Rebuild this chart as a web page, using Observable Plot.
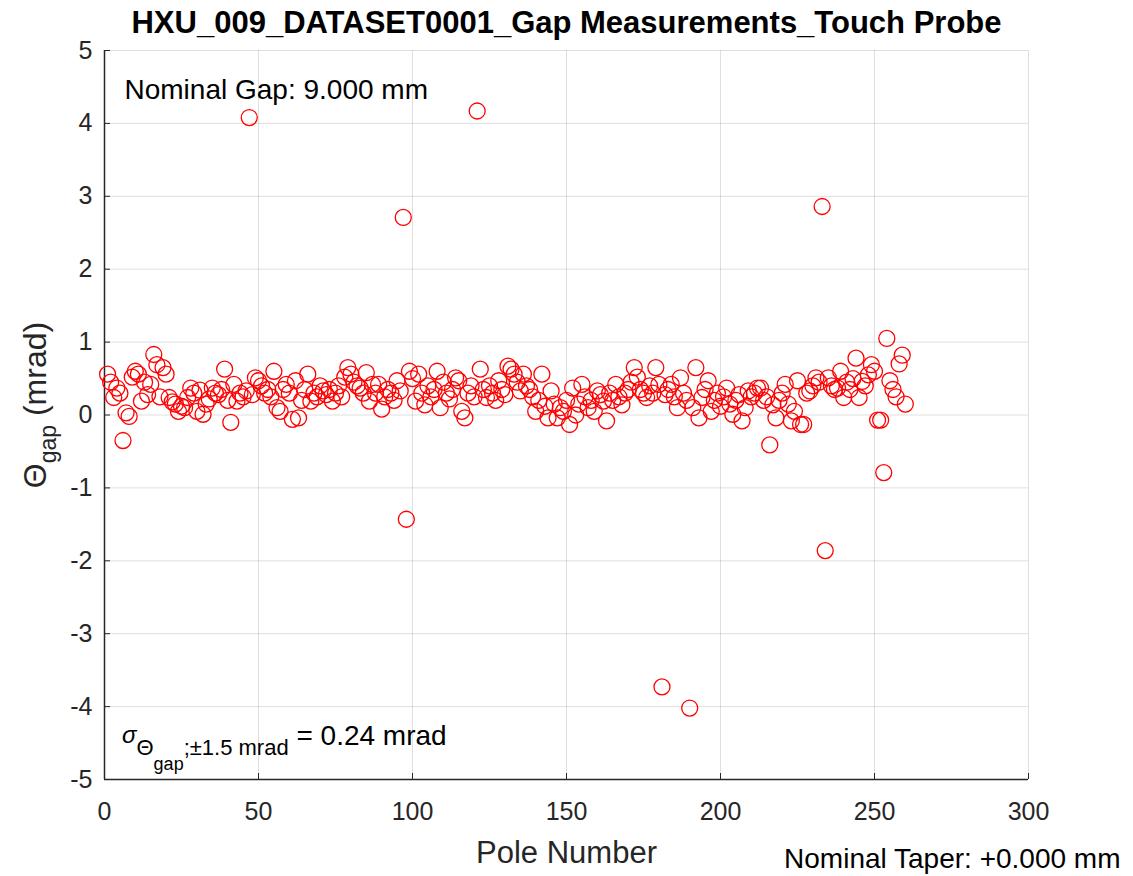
<!DOCTYPE html>
<html><head><meta charset="utf-8">
<script src="https://cdn.jsdelivr.net/npm/d3@7"></script>
<script src="https://cdn.jsdelivr.net/npm/@observablehq/plot@0.6"></script>
<style>
body{margin:0;background:#fff;}
svg{font-family:"Liberation Sans",Arial,Helvetica,sans-serif;}
</style>
</head><body><div id="chart"></div>
<script>
// Theta_gap (mrad) per pole, poles 1..260
const thetaGap = [
  0.56, 0.45, 0.24, 0.37, 0.30, -0.35, 0.03, -0.02, 0.52, 0.60,
  0.56, 0.19, 0.45, 0.28, 0.42, 0.83, 0.69, 0.25, 0.65, 0.56,
  0.24, 0.18, 0.15, 0.05, 0.12, 0.10, 0.24, 0.37, 0.30, 0.05,
  0.34, 0.01, 0.15, 0.22, 0.37, 0.30, 0.28, 0.35, 0.63, 0.20,
  -0.10, 0.42, 0.19, 0.30, 0.25, 0.33, 4.08, 0.28, 0.51, 0.47,
  0.40, 0.30, 0.35, 0.25, 0.60, 0.10, 0.05, 0.35, 0.42, 0.30,
  -0.06, 0.47, -0.04, 0.20, 0.35, 0.56, 0.19, 0.30, 0.25, 0.40,
  0.33, 0.28, 0.35, 0.19, 0.30, 0.40, 0.25, 0.52, 0.65, 0.56,
  0.45, 0.40, 0.37, 0.30, 0.58, 0.19, 0.42, 0.30, 0.42, 0.08,
  0.25, 0.35, 0.30, 0.20, 0.47, 0.33, 2.71, -1.43, 0.60, 0.50,
  0.19, 0.56, 0.30, 0.14, 0.40, 0.25, 0.35, 0.60, 0.10, 0.45,
  0.30, 0.22, 0.35, 0.51, 0.47, 0.05, -0.04, 0.30, 0.40, 0.25,
  4.17, 0.63, 0.35, 0.24, 0.40, 0.30, 0.20, 0.47, 0.35, 0.28,
  0.67, 0.63, 0.56, 0.45, 0.33, 0.56, 0.40, 0.35, 0.25, 0.05,
  0.20, 0.56, 0.12, -0.04, 0.33, 0.15, -0.04, 0.10, 0.05, 0.20,
  -0.13, 0.37, 0.00, 0.15, 0.42, 0.25, 0.10, 0.20, 0.05, 0.33,
  0.28, 0.19, -0.08, 0.30, 0.20, 0.42, 0.25, 0.14, 0.30, 0.35,
  0.45, 0.65, 0.52, 0.35, 0.30, 0.24, 0.40, 0.30, 0.65, 0.42,
  -3.73, 0.28, 0.35, 0.42, 0.25, 0.10, 0.51, 0.30, 0.20, -4.02,
  0.10, 0.65, -0.04, 0.24, 0.35, 0.47, 0.05, 0.20, 0.30, 0.12,
  0.25, 0.37, 0.15, 0.01, 0.20, 0.28, -0.08, 0.10, 0.33, 0.25,
  0.30, 0.37, 0.37, 0.20, 0.25, -0.41, 0.14, -0.04, 0.20, 0.30,
  0.42, 0.15, -0.08, 0.05, 0.47, -0.13, -0.13, 0.30, 0.33, 0.40,
  0.51, 0.45, 2.86, -1.86, 0.51, 0.40, 0.35, 0.37, 0.60, 0.24,
  0.45, 0.35, 0.50, 0.78, 0.24, 0.46, 0.40, 0.55, 0.69, 0.60,
  -0.07, -0.07, -0.79, 1.05, 0.47, 0.35, 0.25, 0.70, 0.82, 0.15
];
const xTicks = [0, 50, 100, 150, 200, 250, 300];
const yTicks = [-5, -4, -3, -2, -1, 0, 1, 2, 3, 4, 5];
const titleText = "HXU_009_DATASET0001_Gap Measurements_Touch Probe";
const xLabel = "Pole Number";
const gapNote = "Nominal Gap: 9.000 mm";
const taperNote = "Nominal Taper: +0.000 mm";

const data = thetaGap.map((v, i) => ({pole: i + 1, theta: v}));
const axisColor = "#262626";

const chart = Plot.plot({
  width: 1133, height: 876,
  marginLeft: 104, marginRight: 105, marginTop: 50, marginBottom: 97,
  style: {fontFamily: '"Liberation Sans", Arial, sans-serif', background: "#fff", color: axisColor},
  x: {domain: [0, 300], label: null},
  y: {domain: [-5, 5], label: null},
  marks: [
    Plot.gridX(xTicks, {stroke: axisColor, strokeOpacity: 0.15, strokeWidth: 1}),
    Plot.gridY(yTicks, {stroke: axisColor, strokeOpacity: 0.15, strokeWidth: 1}),
    Plot.ruleX([0], {stroke: axisColor, strokeWidth: 1.5}),
    Plot.ruleY([-5], {stroke: axisColor, strokeWidth: 1.5}),
    Plot.axisX(xTicks, {tickSize: -6, tickPadding: 29, fontSize: 25, tickFormat: d => String(d), stroke: axisColor, fill: axisColor, label: null}),
    Plot.axisY(yTicks, {tickSize: -6, tickPadding: 18, fontSize: 25, tickFormat: d => String(d), stroke: axisColor, fill: axisColor, label: null}),
    Plot.dot(data, {x: "pole", y: "theta", r: 8, stroke: "#ff0000", strokeWidth: 1.3, fill: "none"}),
    Plot.text([titleText], {text: d => d, frameAnchor: "top", lineAnchor: "bottom", dy: -18, fontSize: 31, fontWeight: "bold", fill: "#000"}),
    Plot.text([gapNote], {text: d => d, frameAnchor: "top-left", textAnchor: "start", lineAnchor: "bottom", dx: 20, dy: 48, fontSize: 28, fill: "#000"}),
    Plot.text([xLabel], {text: d => d, frameAnchor: "bottom", lineAnchor: "bottom", dy: 83, fontSize: 31, fill: axisColor}),
    Plot.text([taperNote], {text: d => d, frameAnchor: "bottom-right", textAnchor: "end", lineAnchor: "bottom", dx: 92, dy: 88, fontSize: 28, fill: "#000"})
  ]
});
document.getElementById("chart").appendChild(chart);

const svg = d3.select(chart);
// y-axis label with subscript
const yl = svg.append("text")
  .attr("transform", "translate(46,405) rotate(-90)")
  .attr("text-anchor", "middle")
  .attr("fill", axisColor)
  .style("font-size", "32px");
yl.append("tspan").text("\u0398");
yl.append("tspan").attr("dy", 10).style("font-size", "23px").text("gap");
yl.append("tspan").attr("dy", -10).text("\u00a0(mrad)");

// sigma annotation
const s = svg.append("text")
  .attr("x", 122).attr("y", 745)
  .attr("text-anchor", "start")
  .attr("fill", "#000")
  .style("font-size", "28px");
s.append("tspan").style("font-style", "italic").style("font-size", "24px").attr("dy", -2).text("\u03c3");
s.append("tspan").attr("dy", 12).style("font-size", "22px").text("\u0398");
s.append("tspan").attr("dy", 15).style("font-size", "18px").text("gap");
s.append("tspan").attr("dy", -15).style("font-size", "22px").text(";\u00b11.5 mrad");
s.append("tspan").attr("dy", -10).text("\u00a0= 0.24 mrad");
</script>
</body></html>
